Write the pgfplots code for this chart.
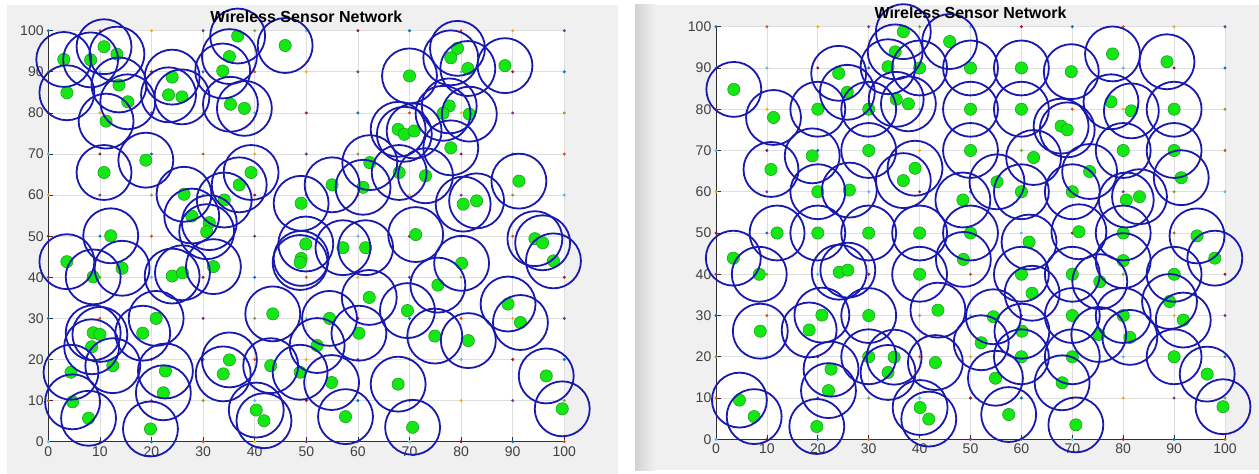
\documentclass[border=0pt]{standalone}
\usepackage{fontspec}
\setmainfont{Liberation Sans}
\usepackage{pgfplots}
\usepackage{pgfplotstable}
\pgfplotsset{compat=1.18}

\definecolor{figgray}{HTML}{F0F0F0}
\definecolor{edgegray}{HTML}{D2D2D2}
\definecolor{tickgray}{HTML}{303030}
\definecolor{labelgray}{HTML}{404040}
\definecolor{gridgray}{HTML}{DEDEDE}
\definecolor{circblue}{RGB}{25,25,175}
\definecolor{nodegreen}{RGB}{20,232,20}
\definecolor{nodeedge}{RGB}{30,150,30}
\definecolor{mla}{HTML}{0072BD}
\definecolor{mlb}{HTML}{D95319}
\definecolor{mlc}{HTML}{EDB120}
\definecolor{mld}{HTML}{7E2F8E}
\definecolor{mle}{HTML}{77AC30}
\definecolor{mlf}{HTML}{4DBEEE}
\definecolor{mlg}{HTML}{A2142F}

% grid-point markers (x y class)
\pgfplotstableread[row sep=\\]{
x y c\\
0 0 f\\ 10 0 g\\ 20 0 a\\ 30 0 b\\ 40 0 c\\ 50 0 d\\ 60 0 e\\ 70 0 f\\ 80 0 g\\ 90 0 a\\ 100 0 b\\
0 10 b\\ 10 10 c\\ 20 10 d\\ 30 10 e\\ 40 10 f\\ 50 10 g\\ 60 10 a\\ 70 10 b\\ 80 10 c\\ 90 10 d\\ 100 10 e\\
0 20 e\\ 10 20 f\\ 20 20 g\\ 30 20 a\\ 40 20 b\\ 50 20 c\\ 60 20 d\\ 70 20 e\\ 80 20 f\\ 90 20 g\\ 100 20 a\\
0 30 a\\ 10 30 b\\ 20 30 c\\ 30 30 d\\ 40 30 e\\ 50 30 f\\ 60 30 g\\ 70 30 a\\ 80 30 b\\ 90 30 c\\ 100 30 d\\
0 40 d\\ 10 40 e\\ 20 40 f\\ 30 40 g\\ 40 40 a\\ 50 40 b\\ 60 40 c\\ 70 40 d\\ 80 40 e\\ 90 40 f\\ 100 40 g\\
0 50 g\\ 10 50 a\\ 20 50 b\\ 30 50 c\\ 40 50 d\\ 50 50 e\\ 60 50 f\\ 70 50 g\\ 80 50 a\\ 90 50 b\\ 100 50 c\\
0 60 c\\ 10 60 d\\ 20 60 e\\ 30 60 f\\ 40 60 g\\ 50 60 a\\ 60 60 b\\ 70 60 c\\ 80 60 d\\ 90 60 e\\ 100 60 f\\
0 70 f\\ 10 70 g\\ 20 70 a\\ 30 70 b\\ 40 70 c\\ 50 70 d\\ 60 70 e\\ 70 70 f\\ 80 70 g\\ 90 70 a\\ 100 70 b\\
0 80 b\\ 10 80 c\\ 20 80 d\\ 30 80 e\\ 40 80 f\\ 50 80 g\\ 60 80 a\\ 70 80 b\\ 80 80 c\\ 90 80 d\\ 100 80 e\\
0 90 e\\ 10 90 f\\ 20 90 g\\ 30 90 a\\ 40 90 b\\ 50 90 c\\ 60 90 d\\ 70 90 e\\ 80 90 f\\ 90 90 g\\ 100 90 a\\
0 100 a\\ 10 100 b\\ 20 100 c\\ 30 100 d\\ 40 100 e\\ 50 100 f\\ 60 100 g\\ 70 100 a\\ 80 100 b\\ 90 100 c\\ 100 100 d\\
}\gridtbl

% left panel: random deployment
\pgfplotstableread[row sep=\\]{
x y\\
3.0 93.0\\ 8.2 92.9\\ 10.8 96.1\\ 13.3 94.3\\ 3.6 84.9\\ 13.7 86.8\\ 15.4 82.7\\ 11.2 78.0\\
10.8 65.5\\ 18.9 68.5\\ 24.0 88.7\\ 23.3 84.4\\ 25.9 83.9\\ 36.7 98.7\\ 35.1 93.7\\ 33.8 90.2\\
35.3 82.1\\ 38.0 81.1\\ 45.9 96.4\\ 39.3 65.5\\ 37.0 62.5\\ 26.3 60.2\\ 34.1 58.8\\ 27.8 54.9\\
31.2 53.3\\ 30.7 51.1\\ 49.0 58.0\\ 79.3 95.7\\ 78.0 93.4\\ 81.3 90.8\\ 88.5 91.5\\ 70.0 89.0\\
77.7 81.7\\ 76.5 79.9\\ 81.6 79.7\\ 67.8 76.0\\ 69.0 74.8\\ 70.9 75.6\\ 78.0 71.5\\ 62.3 67.9\\
68.0 65.5\\ 73.1 64.7\\ 55.0 62.5\\ 61.0 61.9\\ 91.2 63.4\\ 80.4 57.8\\ 83.0 58.6\\ 71.2 50.4\\
94.3 49.4\\ 12.1 50.1\\ 3.6 43.8\\ 8.7 40.1\\ 14.3 42.2\\ 24.0 40.3\\ 26.0 41.1\\ 32.0 42.6\\
49.9 48.1\\ 49.0 44.6\\ 48.8 43.6\\ 20.9 30.0\\ 18.3 26.4\\ 8.7 26.5\\ 10.0 26.1\\ 8.4 23.1\\
12.5 18.5\\ 4.4 16.9\\ 4.7 9.7\\ 7.8 5.7\\ 22.7 17.2\\ 22.3 11.9\\ 19.8 3.1\\ 35.1 19.9\\
33.9 16.5\\ 43.5 31.1\\ 43.1 18.5\\ 40.3 7.7\\ 41.8 5.1\\ 48.8 16.9\\ 52.1 23.4\\ 95.8 48.4\\
97.9 44.0\\ 57.1 47.2\\ 61.5 47.2\\ 80.1 43.4\\ 75.5 38.1\\ 62.2 35.1\\ 69.6 31.9\\ 89.1 33.5\\
91.5 29.0\\ 54.5 30.0\\ 60.2 26.4\\ 74.9 25.7\\ 81.4 24.6\\ 54.9 14.4\\ 67.8 14.0\\ 57.6 6.1\\
70.6 3.5\\ 96.5 16.0\\ 99.6 8.0\\
}\lefttbl

% right panel: after relocation
\pgfplotstableread[row sep=\\]{
x y\\
3.5 84.8\\ 11.3 78.0\\ 10.8 65.4\\ 20.0 80.0\\ 24.1 88.7\\ 25.8 84.1\\ 30.0 80.0\\ 18.9 68.7\\
30.0 70.0\\ 20.0 60.0\\ 26.2 60.4\\ 36.8 98.8\\ 35.2 93.9\\ 33.8 90.3\\ 40.0 90.0\\ 35.4 82.4\\
37.8 81.3\\ 45.9 96.4\\ 39.1 65.7\\ 36.8 62.7\\ 12.0 50.0\\ 20.0 50.0\\ 30.0 50.0\\ 40.0 50.0\\
48.5 58.0\\ 50.0 90.0\\ 60.0 90.0\\ 69.8 89.1\\ 77.9 93.4\\ 88.6 91.5\\ 50.0 80.0\\ 60.0 80.0\\
77.6 81.8\\ 81.6 79.6\\ 90.0 80.0\\ 67.8 75.9\\ 69.0 75.0\\ 50.0 70.0\\ 62.4 68.3\\ 80.0 70.0\\
90.0 70.0\\ 73.4 64.9\\ 91.4 63.4\\ 55.2 62.4\\ 60.0 60.0\\ 70.0 60.0\\ 80.6 58.0\\ 83.2 58.8\\
50.0 50.0\\ 61.5 47.8\\ 71.3 50.3\\ 80.0 50.0\\ 94.5 49.3\\ 3.4 43.9\\ 8.5 40.0\\ 24.2 40.5\\
25.9 41.0\\ 40.0 40.0\\ 43.6 31.3\\ 20.8 30.1\\ 18.3 26.5\\ 8.7 26.2\\ 30.0 30.0\\ 30.0 20.0\\
35.0 19.9\\ 33.8 16.2\\ 43.1 18.6\\ 22.6 17.0\\ 22.1 11.8\\ 19.8 3.1\\ 4.6 9.5\\ 7.5 5.5\\
40.1 7.7\\ 41.8 4.9\\ 48.6 43.6\\ 80.0 43.3\\ 98.0 43.9\\ 60.0 40.0\\ 62.1 35.4\\ 70.0 40.0\\
75.4 38.2\\ 90.0 40.0\\ 54.5 29.7\\ 70.0 30.0\\ 80.0 30.0\\ 89.1 33.4\\ 91.8 28.9\\ 60.1 26.2\\
75.2 25.4\\ 81.3 24.7\\ 52.1 23.4\\ 60.0 20.0\\ 70.0 20.0\\ 90.0 20.0\\ 54.9 14.8\\ 68.0 13.7\\
96.5 15.8\\ 99.6 7.9\\ 57.5 6.0\\ 70.7 3.5\\
}\righttbl

\pgfplotsset{
  wsn/.style={
    scale only axis, clip=false,
    xmin=0, xmax=100, ymin=0, ymax=100,
    xtick={0,10,...,100}, ytick={0,10,...,100},
    axis x line*=bottom, axis y line*=left,
    axis line style={draw=tickgray, line width=0.6pt, -},
    tick style={draw=tickgray, line width=0.5pt},
    major tick length=3.5pt, tick align=inside,
    grid=major, major grid style={draw=gridgray, line width=0.5pt},
    ticklabel style={font=\fontsize{10.5}{12}\selectfont, text=labelgray},
    /pgf/number format/assume math mode=true,
    axis background/.style={fill=white},
    title={Wireless Sensor Network},
    every axis title/.style={at={(0.5,1)}, anchor=base, yshift=6.3pt, inner sep=0pt,
      font=\bfseries\fontsize{12}{14}\selectfont},
  },
  gridpts/.style={
    only marks, scatter, point meta=explicit symbolic,
    scatter/classes={
      a={mark=*, mark size=0.9pt, draw=mla, fill=mla},
      b={mark=*, mark size=0.9pt, draw=mlb, fill=mlb},
      c={mark=*, mark size=0.9pt, draw=mlc, fill=mlc},
      d={mark=*, mark size=0.9pt, draw=mld, fill=mld},
      e={mark=*, mark size=0.9pt, draw=mle, fill=mle},
      f={mark=*, mark size=0.9pt, draw=mlf, fill=mlf},
      g={mark=*, mark size=0.9pt, draw=mlg, fill=mlg}},
  },
  rings/.style={only marks, mark=o, mark size=20.6pt, draw=circblue, line width=1.35pt},
  nodes/.style={only marks, mark=*, mark size=4.6pt, fill=nodegreen, draw=nodeedge, line width=0.4pt},
}

\begin{document}
\begin{tikzpicture}
\path[use as bounding box] (0,0) rectangle (944.25pt,-355.5pt);
\fill[figgray] (5.25pt,-3.75pt) rectangle (463.5pt,-355.5pt);
\fill[figgray] (476.25pt,-3.75pt) rectangle (944.25pt,-352.5pt);
\shade[left color=edgegray, right color=figgray] (476.25pt,-3.75pt) rectangle (491.5pt,-352.5pt);

\begin{axis}[wsn, at={(36.225pt,-331.275pt)}, anchor=south west, width=387pt, height=308.25pt]
\addplot[gridpts] table[x=x, y=y, meta=c] {\gridtbl};
\addplot[nodes] table[x=x, y=y] {\lefttbl};
\addplot[rings] table[x=x, y=y] {\lefttbl};
\end{axis}

\begin{axis}[wsn, at={(537pt,-329.475pt)}, anchor=south west, width=381.75pt, height=309.45pt]
\addplot[gridpts] table[x=x, y=y, meta=c] {\gridtbl};
\addplot[nodes] table[x=x, y=y] {\righttbl};
\addplot[rings] table[x=x, y=y] {\righttbl};
\end{axis}
\end{tikzpicture}
\end{document}
